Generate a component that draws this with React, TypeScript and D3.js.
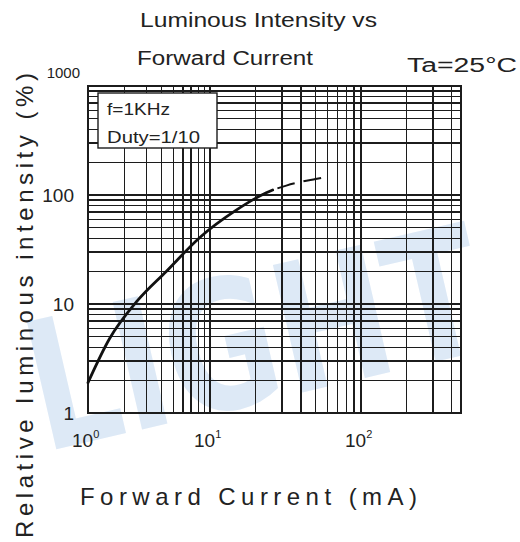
import React from 'react';
import * as d3 from 'd3';

// values
const currentSolid = [1, 1.5, 2.5, 4.4, 8.3, 15, 22, 26];
const intensitySolid = [1.9, 4.8, 10.5, 20, 41, 73, 100, 111];
const currentDashed = [26, 32, 40, 50, 60];
const intensityDashed = [111, 122, 132, 140, 147];

const xDecades = [1, 10, 100];
const xDecadeExp = ['0', '1', '2'];
const xGrid = [2, 3, 4, 5, 6, 7, 8, 9, 10, 20, 30, 40, 50, 60, 70, 80, 90, 100, 200, 300, 400];
const yTicks = [1, 10, 100, 1000];
const yTickLabels = ['1', '10', '100', '1000'];
const yGrid = [2, 3, 4, 5, 6, 7, 8, 9, 10, 20, 30, 40, 50, 60, 70, 80, 90, 100, 200, 300, 400, 500, 600, 700, 800, 900];

const W = 520;
const H = 542;
const plot = { left: 88, right: 461, top: 86, bottom: 413 };
const font = '"Liberation Sans", Arial, sans-serif';

export default function App() {
  // the printed grid has uneven decades, so the log scale is piecewise
  const x = d3.scaleLog().domain([1, 10, 100, 460]).range([plot.left, 210, 361, plot.right]);
  const y = d3.scaleLog().domain([1, 1000]).range([plot.bottom, plot.top]);

  const line = d3.line<[number, number]>()
    .x(d => x(d[0]))
    .y(d => y(d[1]))
    .curve(d3.curveMonotoneX);

  const solid = line(currentSolid.map((c, i) => [c, intensitySolid[i]] as [number, number])) || '';
  const dashed = line(currentDashed.map((c, i) => [c, intensityDashed[i]] as [number, number])) || '';

  const grid = '#1c1c1c';

  return (
    <svg width={W} height={H} style={{ position: 'absolute', left: 0, top: 0, background: '#fff' }}>
      {/* watermark */}
      <text
        transform="translate(44,452) rotate(-13) scale(1,1.3)"
        fontFamily='"DejaVu Sans", sans-serif'
        fontWeight="bold"
        fontSize={138}
        fill="#dde9f6"
      >LIGHT</text>

      {/* titles */}
      <text x={140} y={27} fontFamily={font} fontSize={20} fill="#222" textLength={237} lengthAdjust="spacingAndGlyphs">
        Luminous Intensity vs
      </text>
      <text x={137} y={65} fontFamily={font} fontSize={20} fill="#222" textLength={176} lengthAdjust="spacingAndGlyphs">
        Forward Current
      </text>
      <text x={407} y={72} fontFamily={font} fontSize={20} fill="#222" textLength={110} lengthAdjust="spacingAndGlyphs">
        Ta=25°C
      </text>

      {/* grid */}
      <g stroke={grid} strokeWidth={1.3} shapeRendering="crispEdges">
        {xGrid.map(v => (
          <line key={'x' + v} x1={x(v)} x2={x(v)} y1={plot.top} y2={plot.bottom} />
        ))}
        {yGrid.map(v => (
          <line key={'y' + v} x1={plot.left} x2={plot.right} y1={y(v)} y2={y(v)} />
        ))}
        <rect x={plot.left} y={plot.top} width={plot.right - plot.left} height={plot.bottom - plot.top} fill="none" strokeWidth={1.6} />
      </g>

      {/* curve */}
      <path d={solid} fill="none" stroke="#111" strokeWidth={2.8} strokeLinecap="round" />
      <path d={dashed} fill="none" stroke="#111" strokeWidth={2} strokeDasharray="18 9" strokeDashoffset={22} />

      {/* legend box */}
      <rect x={98} y={93} width={119} height={55} fill="#fff" stroke={grid} strokeWidth={1.4} />
      <text x={107} y={115} fontFamily={font} fontSize={17} fill="#222" textLength={63} lengthAdjust="spacingAndGlyphs">f=1KHz</text>
      <text x={107} y={143} fontFamily={font} fontSize={17} fill="#222" textLength={93} lengthAdjust="spacingAndGlyphs">Duty=1/10</text>

      {/* y tick labels */}
      {yTicks.map((v, i) => (
        <text
          key={'yt' + v}
          x={v === 1000 ? 80 : 74}
          y={v === 1000 ? y(v) - 8 : y(v) + 7}
          textAnchor="end"
          fontFamily={font}
          fontSize={v === 1000 ? 15 : 19}
          fill="#222"
        >{yTickLabels[i]}</text>
      ))}

      {/* x tick labels */}
      {xDecades.map((v, i) => (
        <text key={'xt' + v} x={x(v) - 16} y={447} fontFamily={font} fontSize={19} fill="#222">
          10<tspan dy={-9} fontSize={11}>{xDecadeExp[i]}</tspan>
        </text>
      ))}

      {/* axis titles */}
      <text x={80} y={505} fontFamily={font} fontSize={24} fill="#222" textLength={337} lengthAdjust="spacing">
        Forward Current (mA)
      </text>
      <text
        transform="translate(33,538) rotate(-90)"
        fontFamily={font}
        fontSize={24}
        fill="#222"
        textLength={465}
        lengthAdjust="spacing"
      >Relative luminous intensity (%)</text>
    </svg>
  );
}
